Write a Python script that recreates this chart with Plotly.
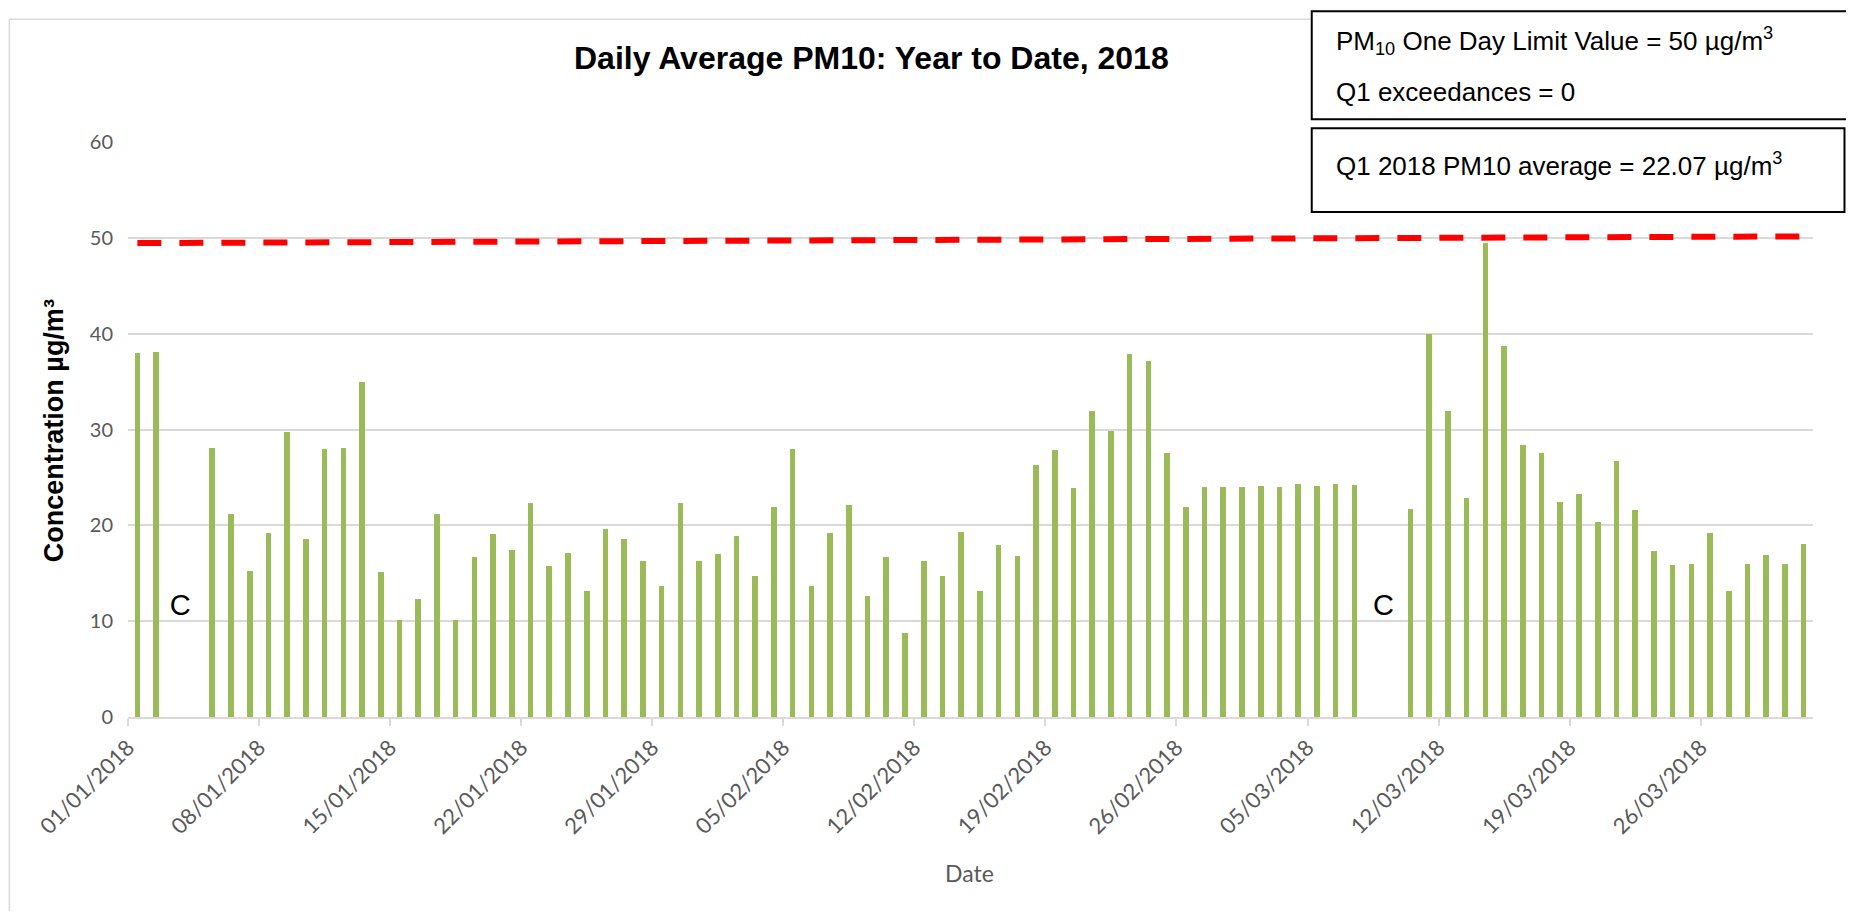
import plotly.graph_objects as go
import pandas as pd

# ---------------- data ----------------
start_date = "2018-01-01 12:00"
n_days = 90
pm10 = [38.0, 38.1, None, None, 28.1, 21.2, 15.2, 19.2, 29.7, 18.6,
        28.0, 28.1, 35.0, 15.1, 10.1, 12.3, 21.2, 10.1, 16.7, 19.1,
        17.4, 22.3, 15.8, 17.1, 13.2, 19.6, 18.6, 16.3, 13.7, 22.3,
        16.3, 17.0, 18.9, 14.7, 21.9, 28.0, 13.7, 19.2, 22.1, 12.6,
        16.7, 8.8, 16.3, 14.7, 19.3, 13.2, 17.9, 16.8, 26.3, 27.9,
        23.9, 31.9, 29.8, 37.9, 37.2, 27.6, 21.9, 24.0, 24.0, 24.0,
        24.1, 24.0, 24.3, 24.1, 24.3, 24.2, None, None, 21.7, 40.0,
        31.9, 22.9, 49.5, 38.7, 28.4, 27.5, 22.4, 23.3, 20.3, 26.7,
        21.6, 17.3, 15.9, 16.0, 19.2, 13.2, 16.0, 16.9, 16.0, 18.1]
limit_dates = ["2018-01-01 12:00", "2018-03-31 12:00"]
limit_values = [49.45, 50.15]
c_dates = ["2018-01-03 19:00", "2018-03-09 01:30"]
c_values = [11.4, 11.4]
c_text = ["C", "C"]
y_ticks = [0, 10, 20, 30, 40, 50, 60]
title_text = "Daily Average PM10: Year to Date, 2018"
box1_lines = ["PM<sub>10</sub> One Day Limit Value = 50 µg/m<sup>3</sup>",
              "Q1 exceedances = 0"]
box2_lines = ["Q1 2018 PM10 average = 22.07 µg/m<sup>3</sup>"]

dates = pd.date_range(start_date, periods=n_days, freq="D")

# ---------------- geometry (page pixels) ----------------
OFF = 8                      # default body margin of the page
W, H = 1854 - 2 * OFF, 919 - 2 * OFF
L, R, T, B = 127.7, 1813.5, 141.8, 717.5   # plot area in page pixels


def px(x):
    return (x - L) / (R - L)


def py(y):
    return (B - y) / (B - T)


GREY = "#595959"
GRID = "#D9D9D9"

fig = go.Figure()
fig.add_trace(go.Bar(
    x=dates, y=pm10, width=0.3 * 86400000,
    marker=dict(color="#9BBB59", line=dict(width=0)),
    showlegend=False, hoverinfo="x+y"))
fig.add_trace(go.Scatter(
    x=pd.to_datetime(limit_dates), y=limit_values, mode="lines",
    line=dict(color="#FF0000", width=6, dash="24px,18px"),
    showlegend=False))
fig.add_trace(go.Scatter(
    x=pd.to_datetime(c_dates), y=c_values, mode="text", text=c_text,
    textfont=dict(family="Arial, Liberation Sans", size=29, color="#000000"),
    showlegend=False, hoverinfo="skip"))

annotations = [
    dict(text="<b>" + title_text + "</b>", x=px(871.5), y=py(57.5),
         font=dict(family="Arial, Liberation Sans", size=32, color="#000000")),
    dict(text="<b>Concentration µg/m³</b>", x=px(54), y=py(431), textangle=-90,
         font=dict(family="Arial, Liberation Sans", size=27, color="#000000")),
    dict(text="Date", x=px(970), y=py(874),
         font=dict(family="Lato", size=23, color=GREY)),
    dict(text=box1_lines[0], x=px(1334), y=py(41), xanchor="left",
         font=dict(family="Arial, Liberation Sans", size=26, color="#000000")),
    dict(text=box1_lines[1], x=px(1334), y=py(92), xanchor="left",
         font=dict(family="Arial, Liberation Sans", size=26, color="#000000")),
    dict(text=box2_lines[0], x=px(1334), y=py(164), xanchor="left",
         font=dict(family="Arial, Liberation Sans", size=26, color="#000000")),
]
for a in annotations:
    a.setdefault("xanchor", "center")
    a.update(xref="paper", yref="paper", yanchor="middle", showarrow=False)

shapes = [
    # chart-area border (right/bottom edges fall outside the page)
    dict(type="rect", xref="paper", yref="paper", x0=px(9), x1=px(1880), y0=py(19), y1=py(950),
         line=dict(color=GRID, width=1.5), fillcolor="rgba(0,0,0,0)", layer="below"),
    # box 1: white fill, then top/left/bottom borders (open to the right edge)
    dict(type="rect", xref="paper", yref="paper", x0=px(1312), x1=px(1900), y0=py(11), y1=py(119),
         line=dict(width=0), fillcolor="#FFFFFF", layer="above"),
    dict(type="path", xref="paper", yref="paper",
         path=f"M {px(1900)},{py(11)} L {px(1312)},{py(11)} L {px(1312)},{py(119)} L {px(1900)},{py(119)}",
         line=dict(color="#000000", width=2), layer="above"),
    # box 2
    dict(type="rect", xref="paper", yref="paper", x0=px(1312), x1=px(1845), y0=py(128), y1=py(212),
         line=dict(color="#000000", width=2), fillcolor="#FFFFFF", layer="above"),
]

fig.update_layout(
    width=W, height=H, autosize=False,
    margin=dict(l=L - OFF, r=W - (R - OFF), t=T - OFF, b=H - (B - OFF), pad=0),
    paper_bgcolor="#FFFFFF", plot_bgcolor="#FFFFFF",
    bargap=0, annotations=annotations, shapes=shapes,
    font=dict(family="Lato", color=GREY),
)
fig.update_xaxes(
    type="date", range=["2018-01-01", "2018-04-01"],
    tick0="2018-01-01", dtick=7 * 86400000, tickformat="%d/%m/%Y",
    tickangle=-45, tickfont=dict(family="Lato", size=22, color=GREY),
    ticks="outside", ticklen=7, tickwidth=2, tickcolor=GRID,
    showline=True, linecolor=GRID, linewidth=2,
    showgrid=False, zeroline=False, fixedrange=True)
fig.update_yaxes(
    range=[0, 60], tickvals=y_ticks, tickfont=dict(family="Lato", size=20, color=GREY),
    showgrid=True, gridcolor=GRID, gridwidth=1.5, zeroline=False,
    showline=False, ticks="", ticklabelstandoff=14, fixedrange=True)

fig.write_html("out.html")
